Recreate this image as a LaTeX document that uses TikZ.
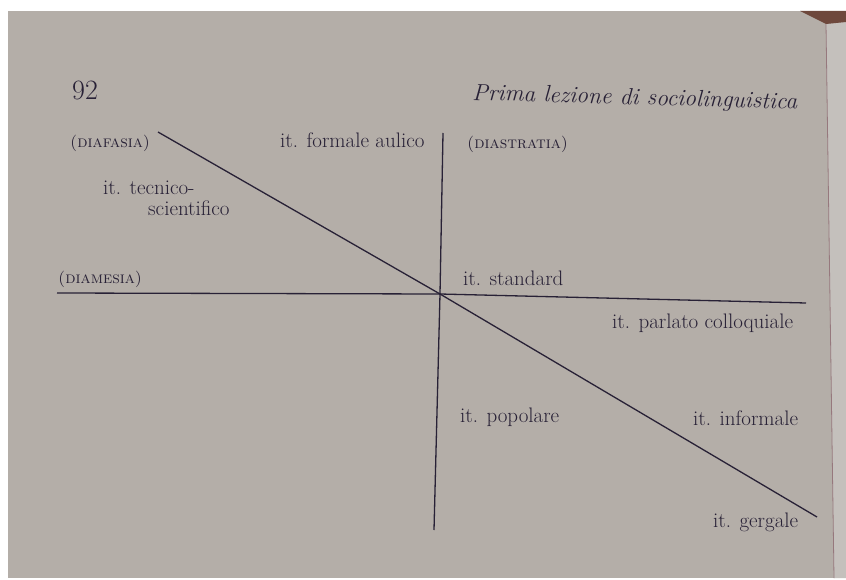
\documentclass[tikz,border=0pt]{standalone}
\usepackage{fontspec}
\definecolor{page}{RGB}{180,174,168}
\definecolor{nextpage}{RGB}{196,192,188}
\definecolor{ink}{RGB}{40,33,54}
\definecolor{corner}{RGB}{110,72,60}
\tikzset{
  lab/.style={anchor=base west, inner sep=0pt, text=ink, font=\fontsize{21}{25}\selectfont},
  sclab/.style={anchor=base west, inner sep=0pt, text=ink, font=\fontsize{16.5}{20}\selectfont\scshape},
  axis/.style={draw=ink, line width=1.3pt},
}
\begin{document}
\begin{tikzpicture}[x=1pt,y=-1pt]
\useasboundingbox (0,0) rectangle (846,580);
\fill[white] (0,0) rectangle (846,580);
\fill[page] (8,11) rectangle (846,578);
\fill[nextpage] (826,24) -- (846,22) -- (846,578) -- (834,578) -- cycle;
\draw[color={rgb,255:red,150;green,120;blue,125}, line width=0.8pt] (826,24) -- (834,578);
\fill[corner] (800,11) -- (846,11) -- (846,22) -- (826,24) -- cycle;
% axes
\coordinate (O) at (440,294);
\coordinate (vT) at (443,133);
\coordinate (vB) at (434,530);
\coordinate (hL) at (57,293);
\coordinate (hR) at (806,303);
\coordinate (dT) at (158,132);
\coordinate (dB) at (817,517);
\draw[axis] (vT) -- (O) -- (vB);
\draw[axis] (hL) -- (O) -- (hR);
\draw[axis] (dT) -- (O) -- (dB);
% header
\node[anchor=base west, inner sep=0pt, text=ink, font=\fontsize{28}{32}\selectfont] (pnum) at (72,100) {92};
\node[anchor=base west, inner sep=0pt, text=ink, font=\fontsize{23.5}{27}\selectfont\itshape, rotate=-1.6] (title) at (472,100) {Prima lezione di sociolinguistica};
% labels
\node[sclab] (diafasia) at (70,148) {(diafasia)};
\node[lab] (aulico) at (280,148) {it. formale aulico};
\node[sclab] (diastratia) at (467,149) {(diastratia)};
\node[lab] (tecnico) at (103,195) {it. tecnico-};
\node[lab] (scient) at (148,215) {scientifico};
\node[sclab] (diamesia) at (58,283) {(diamesia)};
\node[lab] (standard) at (463,285) {it. standard};
\node[lab] (parlato) at (612,328) {it. parlato colloquiale};
\node[lab] (popolare) at (460,422) {it. popolare};
\node[lab] (informale) at (693,425) {it. informale};
\node[lab] (gergale) at (713,527) {it. gergale};
\end{tikzpicture}
\end{document}
